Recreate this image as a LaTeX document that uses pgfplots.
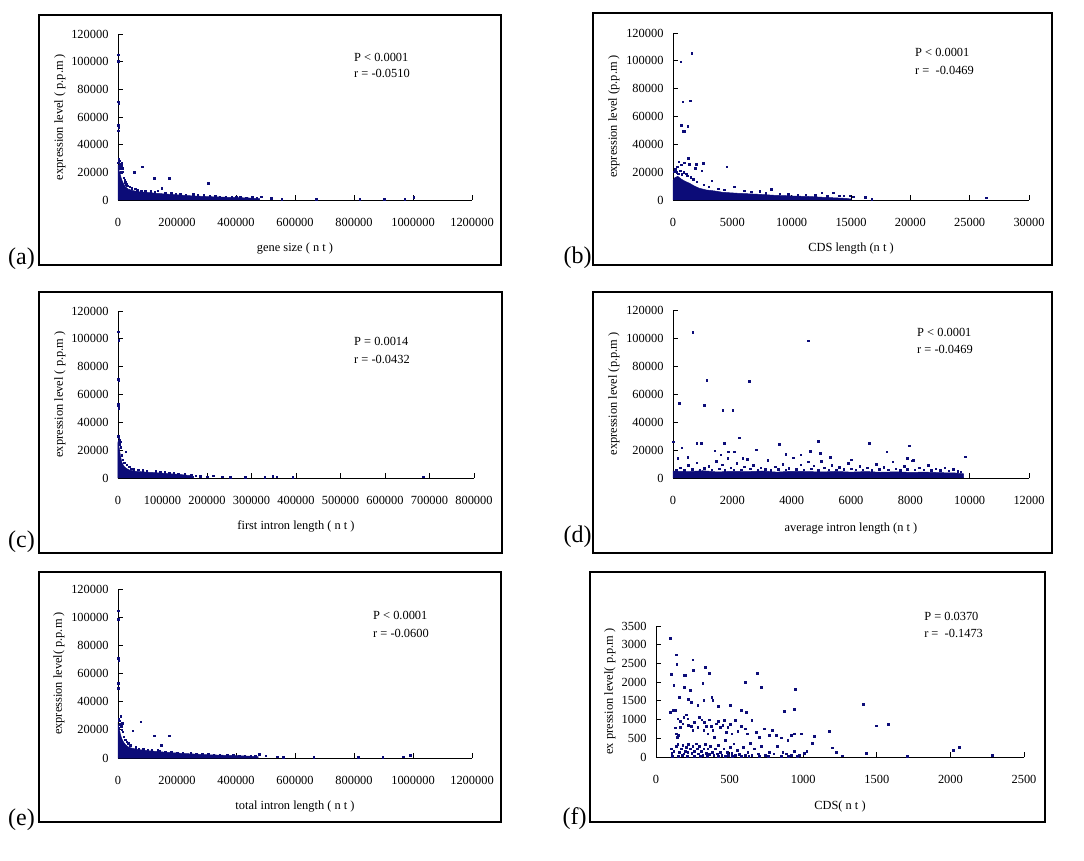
\documentclass[border=0pt]{standalone}
\usepackage{fontspec}
\setmainfont{Liberation Serif}
\usepackage{pgfplots}
\pgfplotsset{compat=1.18}
\definecolor{navy}{RGB}{12,12,120}
\newcommand{\tf}{\fontsize{12.4}{14}\selectfont}
\newcommand{\lf}{\fontsize{24}{28}\selectfont}
\pgfplotsset{
 panel/.style={scale only axis, axis lines=left, axis line style={-,line width=0.9pt,black},
   tick align=inside, major tick length=5pt, tick style={black,line width=0.9pt},
   clip=false, scaled ticks=false, ticklabel style={font=\tf},
   xticklabel style={yshift=-15pt}, yticklabel style={xshift=-6pt},
   label style={font=\tf}, xlabel style={yshift=-2pt},
   /pgf/number format/fixed, /pgf/number format/1000 sep={},
   /pgf/number format/assume math mode=true, minor tick num=0},
 dots/.style={only marks, mark=square*, mark size=0.75pt, color=navy, mark options={draw=navy, fill=navy}},
 cloud/.style={fill=navy, draw=navy, line width=0.5pt, mark=none},
}
\tikzset{ann/.style={anchor=west, inner sep=0pt, font=\tf}}
\begin{document}
\begin{tikzpicture}
\path (0pt,0pt) rectangle (1084pt,860pt);
% boxes
\draw[line width=1.1pt] (39pt,595pt) rectangle (501pt,845pt);
\draw[line width=1.1pt] (593pt,595pt) rectangle (1052pt,847pt);
\draw[line width=1.1pt] (39pt,307pt) rectangle (502pt,568pt);
\draw[line width=1.1pt] (593pt,307pt) rectangle (1052pt,568pt);
\draw[line width=1.1pt] (39pt,38pt) rectangle (501pt,288pt);
\draw[line width=1.1pt] (590pt,38pt) rectangle (1045pt,288pt);
% panel letters
\node[font=\lf] at (21.5pt,601.5pt) {(a)};
\node[font=\lf] at (577.5pt,602pt) {(b)};
\node[font=\lf] at (21.5pt,318pt) {(c)};
\node[font=\lf] at (577.5pt,323.5pt) {(d)};
\node[font=\lf] at (21.5pt,40pt) {(e)};
\node[font=\lf] at (574.5pt,41pt) {(f)};

% ---------------- (a)
\begin{axis}[panel, at={(118pt,660pt)}, anchor=origin, width=354pt, height=166pt,
  xmin=0, xmax=1200000, ymin=0, ymax=120000,
  xtick={0,200000,400000,600000,800000,1000000,1200000},
  ytick={0,20000,40000,60000,80000,100000,120000},
  xlabel={gene size ( n t )}, ylabel={expression level ( p.p.m )},
  xlabel style={at={(axis description cs:0.5,-0.283)}, anchor=center},
  ylabel style={at={(axis description cs:-0.164,0.5)}, anchor=center}]
\addplot[cloud] coordinates {(0,0)(0,24000)(4000,21000)(8000,18000)(12000,15000)(18000,12000)(25000,9500)(35000,7800)(50000,6800)(70000,6000)(100000,5400)(150000,4500)(200000,3700)(250000,3000)(300000,2500)(350000,2100)(400000,1800)(450000,1400)(480000,1000)(480000,0)} \closedcycle;
\addplot[dots] coordinates {(1000,105000)(1500,100500)(1000,71000)(2000,70000)(1000,54000)(2000,52500)(1500,50000)
(2000,30000)(3500,28500)(1000,27000)(5000,26000)(12000,26500)(10000,25000)(6000,24000)(14000,23000)(8000,22500)(3000,24500)(16000,20500)(11000,20000)(20000,16000)(24000,13000)(28000,11500)(32000,10500)(22000,14500)(40000,9500)(46000,8500)
(55000,20000)(82000,24000)(123000,15700)(173000,15700)(306000,12300)(148000,8400)
(58000,8000)(65000,7200)(78000,6800)(92000,6500)(110000,6200)(125000,5800)(135000,6800)(160000,5200)(180000,4800)(195000,4300)(210000,4500)(230000,3800)(255000,4300)(270000,3300)(290000,3600)(310000,3000)(330000,2800)(345000,2500)(365000,2400)(385000,2300)(400000,2000)(415000,2200)(435000,1800)(455000,2000)(470000,1700)(485000,2500)(520000,1200)(555000,600)(672000,500)(820000,500)(902000,700)(972000,600)(1002000,2200)};
\node[ann] at (axis cs:800000,103373) {P < 0.0001};
\node[ann] at (axis cs:800000,91807) {r = -0.0510};
\end{axis}

% ---------------- (b)
\begin{axis}[panel, at={(673pt,660pt)}, anchor=origin, width=356pt, height=167pt,
  xmin=0, xmax=30000, ymin=0, ymax=120000,
  xtick={0,5000,10000,15000,20000,25000,30000},
  ytick={0,20000,40000,60000,80000,100000,120000},
  xlabel={CDS length (n t )}, ylabel={expression level (p.p.m )},
  xlabel style={at={(axis description cs:0.5,-0.281)}, anchor=center},
  ylabel style={at={(axis description cs:-0.166,0.5)}, anchor=center}]
\addplot[cloud] coordinates {(0,0)(0,14000)(150,16000)(400,17000)(700,15000)(1000,13500)(1400,12000)(1800,10000)(2200,8500)(2800,7200)(3500,6500)(4200,5500)(5500,4800)(7000,4200)(8500,3400)(10000,2900)(11500,2500)(12500,2000)(13500,1600)(14500,1200)(15000,700)(15000,0)} \closedcycle;
\addplot[dots] coordinates {(1575,105500)(650,99400)(815,70700)(1430,71400)(675,53900)(1240,53200)(870,49600)(1000,49600)(1290,30000)(950,26800)(1350,25900)(1940,25900)(2555,26400)(4525,24000)(1855,22800)(2415,21100)(500,27500)(700,25500)(300,20000)(450,19000)(600,21000)(750,18500)(900,20000)(1100,19000)(1200,17500)(1500,16500)(1700,15000)(2000,13000)(3260,13900)(2600,11000)(3000,9500)(3800,8200)(4300,7500)(5170,9600)(6000,6500)(6600,5800)(7300,6200)(8260,7900)(7800,5000)(9000,4600)(9700,4200)(10500,3700)(11200,3900)(12000,3300)(12530,5300)(13500,5300)(13000,2800)(14000,3200)(14400,3000)(14900,3000)(15200,2500)(16200,2100)(16750,700)(26400,1700)(100,20500)(200,22000)(350,24000)};
\node[ann] at (axis cs:20393,106347) {P < 0.0001};
\node[ann] at (axis cs:20393,93413) {r =\ \ -0.0469};
\end{axis}

% ---------------- (c)
\begin{axis}[panel, at={(118pt,382pt)}, anchor=origin, width=356pt, height=167pt,
  xmin=0, xmax=800000, ymin=0, ymax=120000,
  xtick={0,100000,200000,300000,400000,500000,600000,700000,800000},
  ytick={0,20000,40000,60000,80000,100000,120000},
  xlabel={first intron length ( n t )}, ylabel={expression level ( p.p.m )},
  xlabel style={at={(axis description cs:0.5,-0.281)}, anchor=center},
  ylabel style={at={(axis description cs:-0.163,0.5)}, anchor=center}]
\addplot[cloud] coordinates {(0,0)(0,25000)(2000,23000)(4000,19000)(6000,15000)(9000,11000)(13000,8500)(18000,7000)(25000,5800)(40000,4800)(60000,4300)(85000,3800)(110000,3200)(140000,2500)(160000,1800)(170000,1100)(170000,0)} \closedcycle;
\addplot[dots] coordinates {(1000,105000)(1200,99000)(1000,71000)(1500,70000)(800,53500)(1000,52000)(1200,50000)(1000,30000)(2000,29000)(3500,27500)(1500,26500)(5000,26000)(4000,24000)(6000,22000)(3000,25000)(17000,19000)(8000,16500)(11000,13000)(14000,11000)(20000,9500)(25000,8000)(30000,6800)(35000,6300)(45000,6000)(55000,5500)(65000,5000)(85000,4800)(95000,4500)(105000,4000)(115000,3600)(125000,3300)(135000,3000)(150000,2800)(165000,2200)(175000,1500)(185000,1200)(200000,800)(214000,1500)(234000,800)(252000,600)(286000,500)(330000,600)(348000,1300)(357000,800)(393000,500)(686000,1000)};
\node[ann] at (axis cs:530337,98443) {P = 0.0014};
\node[ann] at (axis cs:530337,85509) {r = -0.0432};
\end{axis}

% ---------------- (d)
\begin{axis}[panel, at={(673pt,382pt)}, anchor=origin, width=356pt, height=168pt,
  xmin=0, xmax=12000, ymin=0, ymax=120000,
  xtick={0,2000,4000,6000,8000,10000,12000},
  ytick={0,20000,40000,60000,80000,100000,120000},
  xlabel={average intron length (n t )}, ylabel={expression level (p.p.m )},
  xlabel style={at={(axis description cs:0.5,-0.29)}, anchor=center},
  ylabel style={at={(axis description cs:-0.166,0.5)}, anchor=center}]
\addplot[cloud] coordinates {(0,0)(0,5000)(500,4500)(1000,5200)(1500,4300)(2000,4800)(2500,4500)(3000,5000)(3500,4200)(4000,4800)(4500,4600)(5000,4300)(5500,4700)(6000,4200)(6500,4600)(7000,4100)(7500,4400)(8000,4000)(8500,4200)(9000,3800)(9500,3600)(9800,3000)(9800,0)} \closedcycle;
\addplot[dots] coordinates {(100,6000)(250,7500)(380,5500)(520,9000)(650,6200)(800,11000)(900,5800)(1050,7000)(1200,8500)(1300,6000)(1450,12000)(1550,6800)(1650,9500)(1750,5600)(1850,14000)(1950,7200)(2050,6100)(2150,10500)(2300,5800)(2400,8000)(2500,13500)(2600,6500)(2700,9000)(2850,5900)(2950,7500)(3100,6200)(3200,12500)(3300,5700)(3450,8200)(3550,6400)(3700,10000)(3800,5800)(3900,7000)(4050,14500)(4150,6300)(4300,9500)(4400,5900)(4550,11500)(4650,6800)(4750,8800)(4900,5700)(5000,12000)(5100,7200)(5250,6000)(5350,9000)(5500,5800)(5600,7800)(5750,6200)(5900,10500)(6000,6600)(6150,5800)(6300,8500)(6400,6100)(6550,7400)(6700,5700)(6850,9800)(6950,6300)(7100,7800)(7250,5900)(7400,11500)(7500,6500)(7650,5600)(7800,8300)(7900,6200)(8050,12500)(8150,5800)(8300,7200)(8450,6000)(8600,9000)(8700,5500)(8850,6800)(9000,5400)(9150,7500)(9300,5200)(9450,6300)(9600,5000)(9700,4500)
(663,104000)(4563,97900)(1135,70000)(2574,69300)(214,53300)(1045,52100)(1675,48600)(2012,48600)(2237,28800)(11,26000)(798,25000)(944,25000)(1720,25000)(3574,24000)(4900,26400)(6620,25000)(7969,22900)(2799,20200)(1866,18800)(2068,18800)(7205,18800)(4620,19000)(4957,17600)(9846,15200)(300,21500)(3800,17000)(4300,16500)(5300,15000)(6000,13000)(7900,14000)(8100,12800)(1400,19500)(1600,16500)(2350,14000)(3200,13000)(500,15000)(150,14000)};
\node[ann] at (axis cs:8225,104286) {P < 0.0001};
\node[ann] at (axis cs:8225,92143) {r = -0.0469};
\end{axis}

% ---------------- (e)
\begin{axis}[panel, at={(118pt,102pt)}, anchor=origin, width=354pt, height=169pt,
  xmin=0, xmax=1200000, ymin=0, ymax=120000,
  xtick={0,200000,400000,600000,800000,1000000,1200000},
  ytick={0,20000,40000,60000,80000,100000,120000},
  xlabel={total intron length ( n t )}, ylabel={expression level( p.p.m )},
  xlabel style={at={(axis description cs:0.5,-0.278)}, anchor=center},
  ylabel style={at={(axis description cs:-0.167,0.5)}, anchor=center}]
\addplot[cloud] coordinates {(0,0)(0,24000)(4000,21000)(8000,17000)(12000,14000)(18000,11500)(25000,9500)(35000,7800)(50000,6800)(70000,6000)(100000,5200)(150000,4300)(200000,3500)(250000,2900)(300000,2400)(350000,2000)(400000,1700)(450000,1300)(475000,900)(475000,0)} \closedcycle;
\addplot[dots] coordinates {(1000,104600)(1500,98500)(1000,70800)(2000,69500)(1000,53000)(1500,49500)(9000,29800)(2000,28000)(4000,26500)(14700,24600)(6000,24000)(10000,22500)(3000,21500)(12000,20000)(16000,18500)(20000,15000)(24000,13000)(30000,11500)(35000,10500)(42000,9000)(49700,19400)(77000,25800)(122000,15900)(174000,15900)(145800,9200)(134000,5700)(60000,7500)(70000,6500)(85000,6200)(100000,5800)(115000,5600)(140000,5000)(160000,4600)(180000,4300)(200000,3800)(220000,3600)(246000,3800)(265000,3000)(285000,3200)(305000,2700)(325000,2500)(345000,2300)(370000,2200)(390000,2000)(410000,1800)(430000,1700)(450000,1600)(465000,1500)(479000,2600)(500000,1500)(540000,1000)(560000,500)(664000,700)(815000,500)(897000,600)(967000,950)(990000,2100)};
\node[ann] at (axis cs:864407,101538) {P < 0.0001};
\node[ann] at (axis cs:864407,88757) {r = -0.0600};
\end{axis}

% ---------------- (f)
\begin{axis}[panel, at={(656pt,103pt)}, anchor=origin, width=368pt, height=131pt,
  xmin=0, xmax=2500, ymin=0, ymax=3500,
  xtick={0,500,1000,1500,2000,2500},
  ytick={0,500,1000,1500,2000,2500,3000,3500},
  xlabel={CDS( n t )}, ylabel={ex pression level( p.p.m )},
  xlabel style={at={(axis description cs:0.5,-0.366)}, anchor=center},
  ylabel style={at={(axis description cs:-0.125,0.5)}, anchor=center}]
\addplot[dots, mark size=0.9pt] coordinates {(97,3179)(136,2735)(140,2486)(249,2602)(254,2309)(335,2398)(362,2238)(188,2193)(197,2176)(102,2220)(120,1909)(158,1598)(317,1971)(324,1527)(220,1536)(238,1465)(378,1598)(385,1510)(192,1865)(233,1794)(283,1394)(423,1350)(503,1376)(577,1261)(611,1199)(606,1990)(685,2238)(712,1857)(947,1812)(870,1217)(937,1270)(1406,1421)(1494,835)(1578,880)
(97,1199)(113,1261)(131,1261)(147,1021)(163,950)(129,781)(136,622)(143,533)(152,577)(165,799)(181,888)(188,1066)(204,1128)(215,1021)(220,844)(238,817)(249,710)(260,932)(283,799)(294,1066)(310,995)(328,932)(324,710)(340,817)(351,622)(362,995)(374,817)(385,710)(396,533)(408,888)(423,959)(437,799)(453,844)(464,977)(475,666)(487,799)(505,870)(514,622)(539,977)(555,693)(577,817)(607,755)(618,622)(650,977)(679,666)(702,533)(736,755)(770,577)(792,710)(815,577)(849,515)(894,444)(917,577)(940,620)(985,622)
(102,222)(106,107)(120,160)(136,284)(147,337)(158,133)(170,222)(181,311)(188,89)(197,160)(204,266)(215,133)(220,337)(233,222)(242,107)(249,284)(260,160)(272,355)(278,222)(287,89)(294,284)(306,151)(317,44)(324,222)(333,337)(340,107)(351,222)(362,71)(369,284)(380,133)(392,44)(401,222)(414,89)(423,311)(437,133)(446,44)(460,222)(469,444)(482,133)(491,44)(505,266)(514,107)(528,355)(539,44)(550,178)(566,71)(595,266)(605,44)(623,133)(641,373)(650,44)(668,222)(695,89)(713,284)(740,44)(770,133)(799,89)(826,284)(860,133)(883,89)(917,44)(940,160)(974,44)(1003,89)
(110,30)(150,20)(180,40)(210,25)(260,30)(300,15)(350,30)(420,20)(470,15)(520,25)(580,20)(630,30)(700,20)(760,25)(850,30)(900,20)(960,15)
(1074,551)(1178,693)(1060,364)(1196,249)(1225,133)(1266,36)(1429,107)(1709,18)(2021,178)(2057,258)(2283,44)(1024,151)(1008,107)};
\node[ann] at (axis cs:1821,3767) {P = 0.0370};
\node[ann] at (axis cs:1821,3313) {r =\ \ -0.1473};
\end{axis}
\end{tikzpicture}
\end{document}
